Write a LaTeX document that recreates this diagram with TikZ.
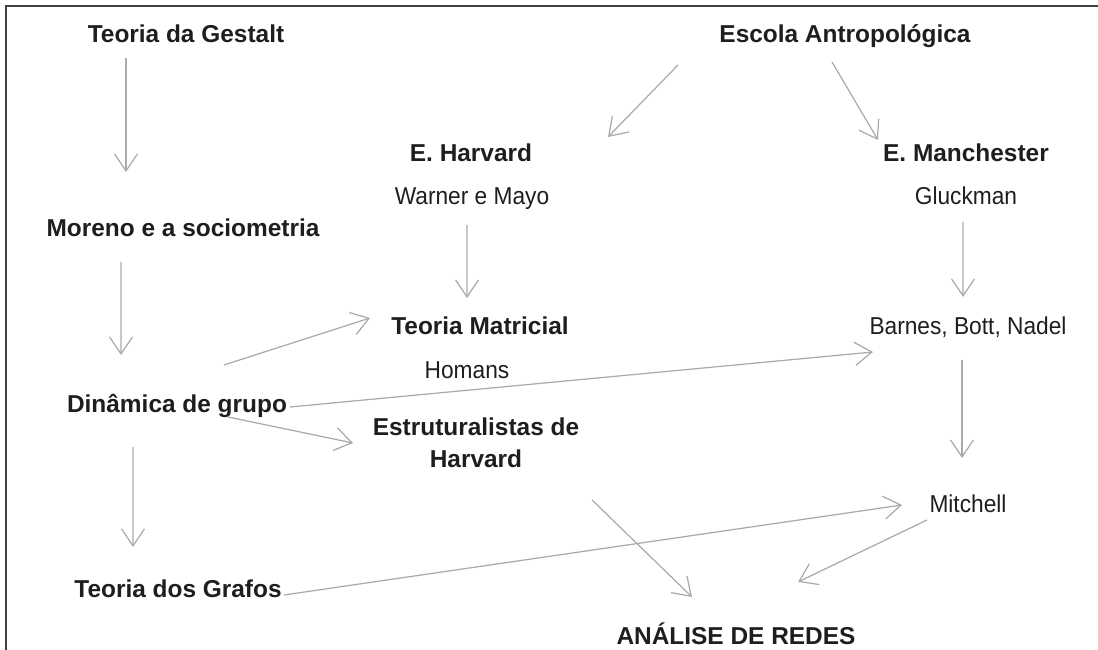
\documentclass[tikz,border=0pt]{standalone}
\usepackage{fontspec}
\setmainfont{Liberation Sans}[UprightFeatures={FakeStretch=0.93},BoldFeatures={FakeStretch=1.0}]
\usetikzlibrary{arrows.meta}
\definecolor{seta}{RGB}{170,170,170}
\definecolor{texto}{RGB}{30,30,30}
\begin{document}
\begin{tikzpicture}[
  tit/.style={anchor=base,text=texto,font=\fontsize{13.9}{18.7}\selectfont\bfseries,inner sep=0pt},
  nome/.style={anchor=base,text=texto,font=\fontsize{13.9}{18.7}\selectfont,inner sep=0pt},
  liga/.style={color=seta,line width=0.7pt,-{Straight Barb[length=3.4mm,width=4.6mm]}}]
\useasboundingbox (0,0) rectangle (21.96,13);
\draw[color=black!75,line width=1.1pt] (0.12,0) -- (0.12,12.88) -- (21.96,12.88);

\node[tit] (gestalt) at (3.72,12.14) {Teoria da Gestalt};
\node[tit] (escola) at (16.90,12.14) {Escola Antropológica};
\node[tit] (harvard) at (9.42,9.76) {E. Harvard};
\node[nome] (warner) at (9.44,8.90) {Warner e Mayo};
\node[tit] (manchester) at (19.32,9.76) {E. Manchester};
\node[nome] (gluckman) at (19.32,8.90) {Gluckman};
\node[tit] (moreno) at (3.66,8.26) {Moreno e a sociometria};
\node[tit] (matricial) at (9.60,6.30) {Teoria Matricial};
\node[nome] (homans) at (9.34,5.42) {Homans};
\node[nome] (barnes) at (19.36,6.30) {Barnes, Bott, Nadel};
\node[tit] (dinamica) at (3.54,4.74) {Dinâmica de grupo};
\node[tit,align=center] (estrut) at (9.52,3.64) {Estruturalistas de\\Harvard};
\node[nome] (mitchell) at (19.36,2.74) {Mitchell};
\node[tit] (grafos) at (3.56,1.04) {Teoria dos Grafos};
\node[tit] (analise) at (14.72,0.10) {ANÁLISE DE REDES};

\draw[liga] ([shift={(-1.20,-0.30)}]gestalt.base) -- ([shift={(-1.14,1.30)}]moreno.base);
\draw[liga] ([shift={(-1.24,-0.50)}]moreno.base) -- ([shift={(-1.12,1.16)}]dinamica.base);
\draw[liga] ([shift={(-0.88,-0.68)}]dinamica.base) -- ([shift={(-0.90,1.02)}]grafos.base);
\draw[liga] ([shift={(-3.34,-0.44)}]escola.base) -- ([shift={(2.74,0.50)}]harvard.base);
\draw[liga] ([shift={(-0.26,-0.38)}]escola.base) -- ([shift={(-1.76,0.44)}]manchester.base);
\draw[liga] ([shift={(-0.10,-0.40)}]warner.base) -- ([shift={(-0.26,0.74)}]matricial.base);
\draw[liga] ([shift={(-0.06,-0.34)}]gluckman.base) -- ([shift={(-0.10,0.76)}]barnes.base);
\draw[liga] ([shift={(0.94,0.96)}]dinamica.base) -- ([shift={(-2.20,0.34)}]matricial.base);
\draw[liga] ([shift={(2.26,0.12)}]dinamica.base) -- ([shift={(-1.90,-0.34)}]barnes.base);
\draw[liga] ([shift={(1.02,-0.08)}]dinamica.base) -- ([shift={(-2.46,0.50)}]estrut.base);
\draw[liga] ([shift={(-0.12,-0.50)}]barnes.base) -- ([shift={(-0.12,1.10)}]mitchell.base);
\draw[liga] ([shift={(2.32,-0.64)}]estrut.base) -- ([shift={(-0.88,0.96)}]analise.base);
\draw[liga] ([shift={(2.12,0.06)}]grafos.base) -- ([shift={(-1.32,0.16)}]mitchell.base);
\draw[liga] ([shift={(-0.82,-0.14)}]mitchell.base) -- ([shift={(1.24,1.26)}]analise.base);
\end{tikzpicture}
\end{document}
